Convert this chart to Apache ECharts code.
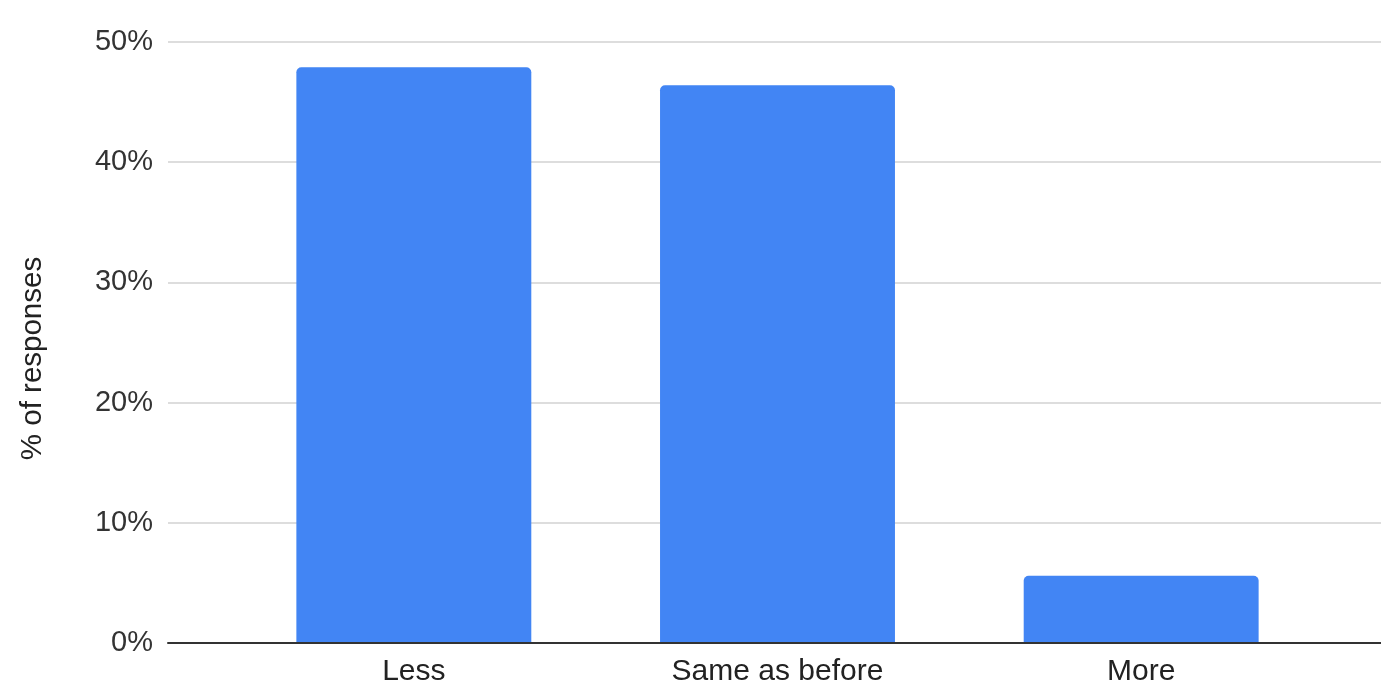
<!DOCTYPE html>
<html>
<head>
<meta charset="utf-8">
<script src="https://cdn.jsdelivr.net/npm/echarts@6/dist/echarts.min.js"></script>
<style>
html,body{margin:0;padding:0;background:#fff;}
#chart{width:1381px;height:684px;}
</style>
</head>
<body>
<div id="chart"></div>
<script>
const categories = ["Less", "Same as before", "More"];
const values = [47.9, 46.4, 5.6];
const yTicks = { min: 0, max: 50, interval: 10 };
const yTitle = "% of responses";

const FONT = "'Liberation Sans', Arial, sans-serif";
const chart = echarts.init(document.getElementById('chart'), null, { renderer: 'canvas' });
chart.setOption({
  animation: false,
  backgroundColor: '#ffffff',
  textStyle: { fontFamily: FONT },
  grid: [
    { left: 168, right: 0, top: 42, bottom: 41, containLabel: false, outerBoundsMode: 'none' },
    { left: 232, right: 58, top: 42, bottom: 41, containLabel: false, outerBoundsMode: 'none' }
  ],
  xAxis: [
    {
      gridIndex: 0, type: 'category', data: categories,
      axisLabel: { show: false }, axisTick: { show: false },
      axisLine: { show: true, lineStyle: { color: '#333333', width: 2 } },
      splitLine: { show: false }, z: 5
    },
    {
      gridIndex: 1, type: 'category', data: categories,
      axisLine: { show: false }, axisTick: { show: false },
      axisLabel: { color: '#222222', fontSize: 30, fontFamily: FONT, margin: 14 }
    }
  ],
  yAxis: [
    {
      gridIndex: 0, type: 'value', min: yTicks.min, max: yTicks.max, interval: yTicks.interval,
      axisLine: { show: false }, axisTick: { show: false },
      axisLabel: { formatter: '{value}%', color: '#333333', fontSize: 29, fontFamily: FONT, margin: 15 },
      splitLine: { lineStyle: { color: '#dddddd', width: 2 } },
      name: yTitle, nameLocation: 'middle', nameRotate: 90, nameGap: 120,
      nameTextStyle: { color: '#222222', fontSize: 29.5, fontFamily: FONT, padding: [0, 32, 0, 0] }
    },
    {
      gridIndex: 1, type: 'value', min: yTicks.min, max: yTicks.max, interval: yTicks.interval,
      show: false, splitLine: { show: false }
    }
  ],
  series: [{
    type: 'bar', xAxisIndex: 1, yAxisIndex: 1,
    data: values, barWidth: '64.6%',
    itemStyle: { color: '#4285F4', borderRadius: [5, 5, 0, 0] }
  }]
});
</script>
</body>
</html>
